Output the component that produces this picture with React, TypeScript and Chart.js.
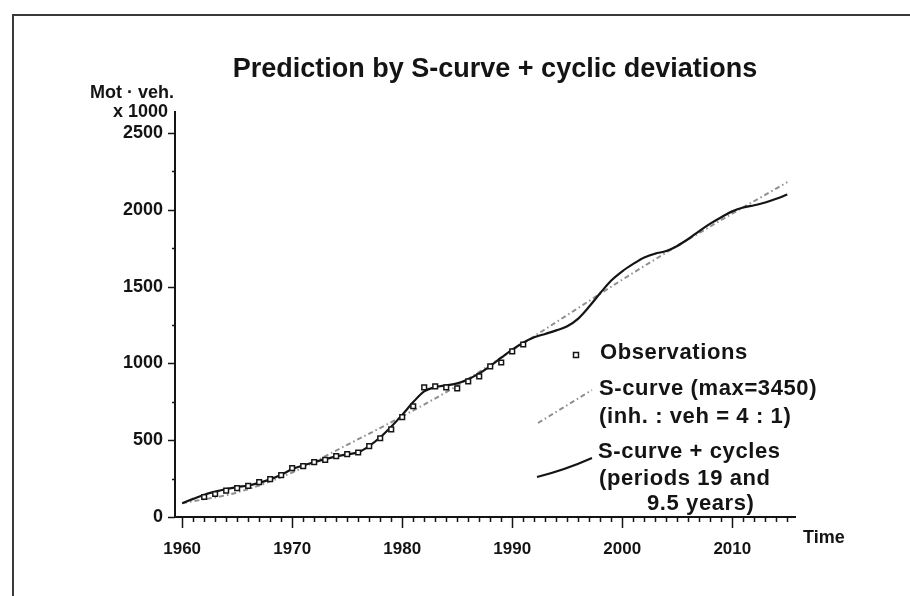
import React, { useEffect, useRef } from "react";
import { Chart, registerables } from "chart.js";

Chart.register(...registerables);

// ---- data ----
const obsYears = [1962, 1963, 1964, 1965, 1966, 1967, 1968, 1969, 1970, 1971, 1972, 1973, 1974, 1975, 1976, 1977, 1978, 1979, 1980, 1981, 1982, 1983, 1984, 1985, 1986, 1987, 1988, 1989, 1990, 1991];
const obsValues = [130, 150, 172, 188, 203, 227, 247, 273, 318, 331, 357, 372, 396, 409, 420, 461, 513, 571, 650, 721, 844, 851, 844, 838, 883, 916, 981, 1006, 1078, 1123];

const sCurveYears = [1960, 1965, 1970, 1975, 1980, 1985, 1990, 1995, 2000, 2005, 2010, 2015];
const sCurveValues = [90, 160, 290, 470, 655, 855, 1085, 1315, 1545, 1765, 1975, 2180];

const cycleYears = [1960, 1961, 1962, 1963, 1964, 1965, 1966, 1967, 1968, 1969, 1970, 1971, 1972, 1973, 1974, 1975, 1976, 1977, 1978, 1979, 1980, 1981, 1982, 1983, 1984, 1985, 1986, 1987, 1988, 1989, 1990, 1991, 1992, 1993, 1994, 1995, 1996, 1997, 1998, 1999, 2000, 2001, 2002, 2003, 2004, 2005, 2006, 2007, 2008, 2009, 2010, 2011, 2012, 2013, 2014, 2015];
const cycleValues = [90, 118, 145, 165, 182, 195, 205, 222, 245, 275, 312, 336, 357, 377, 395, 408, 422, 462, 519, 588, 665, 748, 818, 845, 857, 870, 897, 935, 983, 1037, 1090, 1135, 1170, 1192, 1215, 1242, 1292, 1370, 1458, 1540, 1600, 1648, 1690, 1715, 1732, 1765, 1810, 1862, 1910, 1952, 1990, 2015, 2030, 2048, 2072, 2100];

const xTickYears = [1960, 1970, 1980, 1990, 2000, 2010];
const yTickValues = [0, 500, 1000, 1500, 2000, 2500];

const titleText = "Prediction by S-curve + cyclic deviations";
const yTitleLines = ["Mot \u00b7 veh.", "x 1000"];
const xTitleText = "Time";
const legendObs = "Observations";
const legendSCurve = ["S-curve (max=3450)", "(inh. : veh = 4 : 1)"];
const legendCycles = ["S-curve + cycles", "(periods 19 and", "9.5 years)"];

const FONT = "'Liberation Sans', Arial, Helvetica, sans-serif";
const INK = "#141414";
const GREY = "#8f8f8f";

const decorPlugin = {
  id: "decor",
  afterDraw(chart: any) {
    const ctx: CanvasRenderingContext2D = chart.ctx;
    const xs = chart.scales.x;
    const ys = chart.scales.y;
    const area = chart.chartArea;
    ctx.save();

    // frame
    ctx.strokeStyle = "#3a3a3a";
    ctx.lineWidth = 2;
    ctx.beginPath();
    ctx.moveTo(13, 596);
    ctx.lineTo(13, 15);
    ctx.lineTo(910, 15);
    ctx.stroke();

    // x tick marks (yearly minor, decade major)
    ctx.strokeStyle = INK;
    ctx.lineWidth = 1.5;
    ctx.beginPath();
    for (let yr = 1960; yr <= 2015; yr++) {
      const px = Math.round(xs.getPixelForValue(yr)) + 0.5;
      const len = yr % 10 === 0 ? 11 : 5;
      ctx.moveTo(px, area.bottom);
      ctx.lineTo(px, area.bottom + len);
    }
    // y tick marks
    for (let v = 0; v <= 2500; v += 250) {
      const py = Math.round(ys.getPixelForValue(v)) + 0.5;
      const len = v % 500 === 0 ? 7 : 3;
      ctx.moveTo(area.left, py);
      ctx.lineTo(area.left - len, py);
    }
    ctx.stroke();

    // title
    ctx.fillStyle = INK;
    ctx.textBaseline = "middle";
    ctx.textAlign = "center";
    ctx.font = `bold 27px ${FONT}`;
    ctx.fillText(titleText, 495, 70);

    // y axis title
    ctx.textAlign = "right";
    ctx.font = `bold 18px ${FONT}`;
    ctx.fillText(yTitleLines[0], 174, 93);
    ctx.fillText(yTitleLines[1], 168, 112);

    // x axis title
    ctx.textAlign = "left";
    ctx.fillText(xTitleText, 803, 538);

    // legend
    ctx.font = `bold 22px ${FONT}`;
    (ctx as any).letterSpacing = "0.6px";
    ctx.textAlign = "left";
    ctx.fillText(legendObs, 600, 353);
    ctx.fillText(legendSCurve[0], 599, 389);
    ctx.fillText(legendSCurve[1], 599, 417);
    ctx.fillText(legendCycles[0], 598, 452);
    ctx.fillText(legendCycles[1], 599, 479);
    ctx.fillText(legendCycles[2], 647, 504);
    (ctx as any).letterSpacing = "0px";

    // legend samples
    ctx.strokeStyle = INK;
    ctx.lineWidth = 1.5;
    ctx.strokeRect(573.5, 352.5, 5, 5);

    ctx.strokeStyle = GREY;
    ctx.lineWidth = 2;
    ctx.setLineDash([5, 3, 1.5, 3]);
    ctx.beginPath();
    ctx.moveTo(538, 423);
    ctx.lineTo(592, 390);
    ctx.stroke();
    ctx.setLineDash([]);

    ctx.strokeStyle = INK;
    ctx.lineWidth = 2;
    ctx.beginPath();
    ctx.moveTo(537, 477);
    ctx.quadraticCurveTo(565, 470, 592, 458);
    ctx.stroke();

    ctx.restore();
  },
};

export default function App() {
  const ref = useRef<HTMLCanvasElement | null>(null);

  useEffect(() => {
    if (!ref.current) return;
    const chart = new Chart(ref.current, {
      type: "line",
      data: {
        datasets: [
          {
            label: "Observations",
            data: obsYears.map((x, i) => ({ x, y: obsValues[i] })),
            showLine: false,
            pointStyle: "rect",
            pointRadius: 3.3,
            pointBorderWidth: 1.5,
            pointBorderColor: INK,
            pointBackgroundColor: "#ffffff",
            order: 0,
          },
          {
            label: "S-curve + cycles",
            data: cycleYears.map((x, i) => ({ x, y: cycleValues[i] })),
            borderColor: INK,
            borderWidth: 2.2,
            pointRadius: 0,
            cubicInterpolationMode: "monotone",
            fill: false,
            order: 1,
          },
          {
            label: "S-curve",
            data: sCurveYears.map((x, i) => ({ x, y: sCurveValues[i] })),
            borderColor: GREY,
            borderWidth: 2,
            borderDash: [5, 3, 1.5, 3],
            pointRadius: 0,
            cubicInterpolationMode: "monotone",
            fill: false,
            order: 2,
          },
        ],
      },
      options: {
        animation: false,
        responsive: false,
        devicePixelRatio: 1,
        layout: { padding: { left: 0, top: 112, right: 115, bottom: 0 } },
        plugins: {
          legend: { display: false },
          tooltip: { enabled: false },
          title: { display: false },
        },
        scales: {
          x: {
            type: "linear",
            min: 1959.35,
            max: 2015.7,
            afterBuildTicks: (s: any) => {
              s.ticks = xTickYears.map((v) => ({ value: v }));
            },
            afterFit: (s: any) => {
              s.height = 79;
            },
            grid: { display: false, drawTicks: false },
            border: { display: true, color: INK, width: 2 },
            ticks: {
              autoSkip: false,
              maxRotation: 0,
              padding: 22,
              color: INK,
              font: { family: FONT, size: 17, weight: "bold" },
              callback: (v: any) => String(v),
            },
          },
          y: {
            type: "linear",
            min: 0,
            max: 2637,
            afterBuildTicks: (s: any) => {
              s.ticks = yTickValues.map((v) => ({ value: v }));
            },
            afterFit: (s: any) => {
              s.width = 175;
            },
            grid: { display: false, drawTicks: false },
            border: { display: true, color: INK, width: 2 },
            ticks: {
              padding: 12,
              color: INK,
              font: { family: FONT, size: 18, weight: "bold" },
              callback: (v: any) => String(v),
            },
          },
        },
      },
      plugins: [decorPlugin],
    } as any);
    return () => chart.destroy();
  }, []);

  return (
    <div style={{ position: "fixed", left: 0, top: 0, width: 910, height: 596, background: "#ffffff" }}>
      <canvas ref={ref} width={910} height={596} style={{ display: "block", width: 910, height: 596 }} />
    </div>
  );
}
